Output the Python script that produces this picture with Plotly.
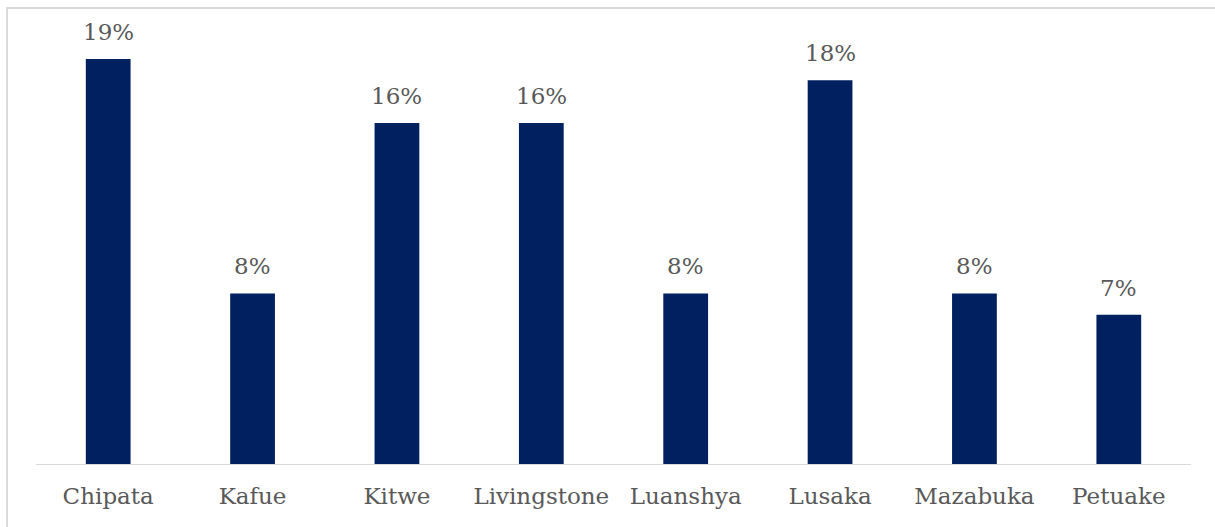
import plotly.graph_objects as go

categories = ["Chipata", "Kafue", "Kitwe", "Livingstone", "Luanshya", "Lusaka", "Mazabuka", "Petuake"]
values = [19, 8, 16, 16, 8, 18, 8, 7]
labels = [f"{v}%" for v in values]

W, H = 1215, 527
ML, MR, MT, MB = 36, 24, 30, 63
plot_w = W - ML - MR
plot_h = H - MT - MB
px_per_unit = 21.32
ymax = plot_h / px_per_unit

FONT = "DejaVu Serif"
TXT = "#595959"
FS = 23

fig = go.Figure()
fig.add_trace(go.Bar(
    x=categories, y=values,
    marker=dict(color="#002060", line=dict(width=0)),
    width=0.31,
    hoverinfo="skip",
))

for c, v, t in zip(categories, values, labels):
    fig.add_annotation(x=c, y=v, text=t, showarrow=False, yanchor="bottom",
                       yshift=12, font=dict(family=FONT, size=FS, color=TXT))

fig.add_shape(type="rect", xref="paper", yref="paper",
              x0=(7 - ML) / plot_w, x1=(W + 20 - ML) / plot_w,
              y0=-(MB + 20) / plot_h, y1=1 + (MT - 8) / plot_h,
              line=dict(color="#D9D9D9", width=2), fillcolor="rgba(0,0,0,0)", layer="below")

fig.update_layout(
    width=W, height=H,
    margin=dict(l=ML, r=MR, t=MT, b=MB),
    paper_bgcolor="white", plot_bgcolor="white",
    showlegend=False,
    font=dict(family=FONT, size=FS, color=TXT),
    xaxis=dict(showline=True, linecolor="#D9D9D9", linewidth=1.3, ticks="",
               showgrid=False, zeroline=False,
               tickfont=dict(family=FONT, size=FS, color=TXT),
               ticklabelstandoff=11),
    yaxis=dict(range=[0, ymax], visible=False, showgrid=False, zeroline=False),
)

fig.write_html("out.html")
